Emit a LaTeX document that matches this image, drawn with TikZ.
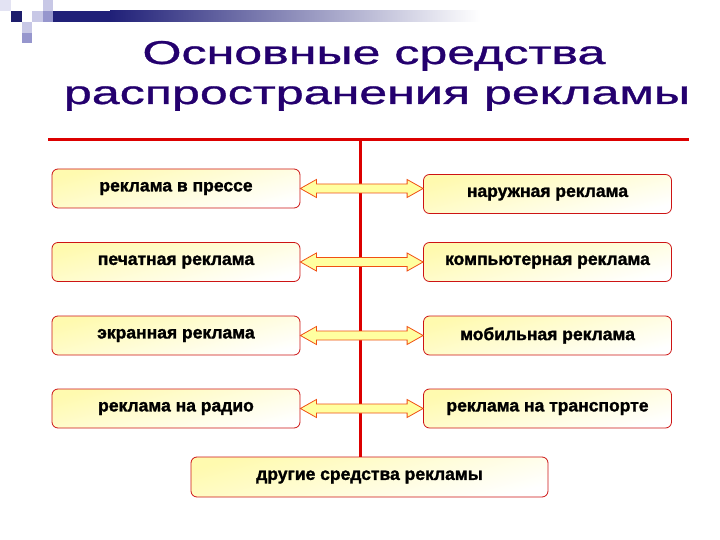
\documentclass[tikz,border=0pt]{standalone}
\usepackage{fontspec}
\usepackage{graphicx}
\setmainfont{Liberation Sans}
\newfontfamily\titlef[FakeBold=0.8]{Liberation Sans}
\newfontfamily\boxf[FakeBold=1.5]{Liberation Sans Bold}
\usetikzlibrary{calc}
\definecolor{navy}{RGB}{32,32,120}
\definecolor{titlec}{RGB}{36,0,110}
\definecolor{redl}{RGB}{220,0,0}
\definecolor{boxb}{RGB}{205,20,20}
\definecolor{arrf}{RGB}{255,255,160}
\definecolor{arrb}{RGB}{240,80,20}
\definecolor{lav1}{RGB}{200,200,230}
\definecolor{lav2}{RGB}{150,150,205}
\definecolor{boxy}{RGB}{255,250,175}
\tikzset{
  itembox/.style={draw=boxb, line width=0.8pt, rounded corners=6pt,
    top color=boxy, bottom color=white, shading angle=15,
    minimum width=248pt, minimum height=39pt, inner sep=0pt,
    font=\boxf\fontsize{17.5}{19}\selectfont},
  titlefont/.style={text=titlec, font=\titlef\fontsize{33}{36}\selectfont, anchor=base},
  redline/.style={draw=redl, line width=3pt},
  dblarrow/.style={draw=arrb, fill=arrf, line width=0.8pt, line join=miter}
}
\newcommand{\dblarr}[2]{%
  \path[dblarrow] let \p1=(#1.east), \p2=(#2.west) in
    (\x1,\y1) -- (\x1+16pt,\y1+9pt) -- (\x1+16pt,\y1+4.5pt) -- (\x2-16pt,\y1+4.5pt)
    -- (\x2-16pt,\y1+9pt) -- (\x2,\y1) -- (\x2-16pt,\y1-9pt) -- (\x2-16pt,\y1-4.5pt)
    -- (\x1+16pt,\y1-4.5pt) -- (\x1+16pt,\y1-9pt) -- cycle;}
\begin{document}
\begin{tikzpicture}[x=1pt,y=-1pt]
\useasboundingbox (0,0) rectangle (720,540);
\fill[white] (0,0) rectangle (720,540);
% corner decoration
\fill[navy] (53,11) rectangle (111,22);
\shade[left color=navy, right color=white] (110,11) rectangle (480,22);
\fill[lav1!50] (0,0) rectangle (11,11);
\fill[navy!90!black] (11,11) rectangle (22,22);
\fill[lav1] (32,11) rectangle (43,22);
\fill[lav1] (43,0) rectangle (53,11);
\fill[lav2] (43,11) rectangle (53,22);
\fill[lav1] (22,22) rectangle (32,33);
\fill[lav2] (22,33) rectangle (32,43);
% title
\node[titlefont] (t1) at (374,64) {\scalebox{1.52}[1]{Основные  средства}};
\node[titlefont] (t2) at (377,104) {\scalebox{1.52}[1]{распространения  рекламы}};
% red lines
\coordinate (hl) at (48,140);
\coordinate (hr) at (689,140);
\coordinate (vt) at (360,140);
\draw[redline] (hl) -- (hr);
% boxes
\node[itembox] (L1) at (176,188.5) {реклама в прессе};
\node[itembox] (L2) at (176,262) {печатная реклама};
\node[itembox] (L3) at (176,335.5) {экранная реклама};
\node[itembox] (L4) at (176,408.5) {реклама на радио};
\node[itembox] (R1) at (547.5,194) {наружная реклама};
\node[itembox] (R2) at (547.5,262) {компьютерная реклама};
\node[itembox] (R3) at (547.5,335.5) {мобильная реклама};
\node[itembox] (R4) at (547.5,408.5) {реклама на транспорте};
\node[itembox, minimum width=357pt, minimum height=40pt] (B) at (369.5,477) {другие средства рекламы};
\draw[redline] (vt) -- (vt |- B.north);
% arrows
\dblarr{L1}{R1}
\dblarr{L2}{R2}
\dblarr{L3}{R3}
\dblarr{L4}{R4}
\end{tikzpicture}
\end{document}
